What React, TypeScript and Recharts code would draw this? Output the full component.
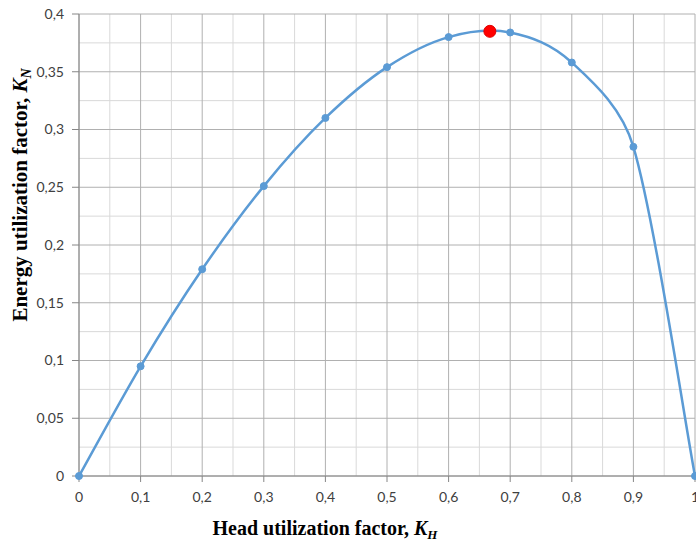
import React from 'react';
import { ComposedChart, Line, XAxis, YAxis, CartesianGrid, ReferenceDot, Label } from 'recharts';

const headFactor = [0, 0.1, 0.2, 0.3, 0.4, 0.5, 0.6, 0.7, 0.8, 0.9, 1];
const energyFactor = [0, 0.095, 0.179, 0.251, 0.31, 0.354, 0.38, 0.384, 0.358, 0.285, 0];
const peakHead = 0.667;
const peakEnergy = 0.385;
const xTicks = [0, 0.1, 0.2, 0.3, 0.4, 0.5, 0.6, 0.7, 0.8, 0.9, 1];
const yTicks = [0, 0.05, 0.1, 0.15, 0.2, 0.25, 0.3, 0.35, 0.4];
const xMinor = [0.05, 0.15, 0.25, 0.35, 0.45, 0.55, 0.65, 0.75, 0.85, 0.95];
const yMinor = [0.025, 0.075, 0.125, 0.175, 0.225, 0.275, 0.325, 0.375];

const data = headFactor.map((x, i) => ({ x, y: energyFactor[i] }));

// Catmull-Rom style smoothing with control arms capped relative to the segment length
const ARM_CAP = 0.4;
const smoothCurve = (context: any) => {
  let pts: number[][] = [];
  const len = (dx: number, dy: number) => Math.sqrt(dx * dx + dy * dy);
  return {
    areaStart() {},
    areaEnd() {},
    lineStart() {
      pts = [];
    },
    point(x: number, y: number) {
      pts.push([+x, +y]);
    },
    lineEnd() {
      const n = pts.length;
      if (!n) return;
      context.moveTo(pts[0][0], pts[0][1]);
      for (let i = 0; i < n - 1; i++) {
        const p1 = pts[i];
        const p2 = pts[i + 1];
        const p0 = pts[i - 1] || p1;
        const p3 = pts[i + 2] || p2;
        const seg = len(p2[0] - p1[0], p2[1] - p1[1]);
        let a1x = (p2[0] - p0[0]) / 6;
        let a1y = (p2[1] - p0[1]) / 6;
        let a2x = (p3[0] - p1[0]) / 6;
        let a2y = (p3[1] - p1[1]) / 6;
        const l1 = len(a1x, a1y);
        const l2 = len(a2x, a2y);
        if (l1 > seg * ARM_CAP) {
          const k = (seg * ARM_CAP) / l1;
          a1x *= k;
          a1y *= k;
        }
        if (l2 > seg * ARM_CAP) {
          const k = (seg * ARM_CAP) / l2;
          a2x *= k;
          a2y *= k;
        }
        context.bezierCurveTo(p1[0] + a1x, p1[1] + a1y, p2[0] - a2x, p2[1] - a2y, p2[0], p2[1]);
      }
    },
  };
};

const fmt = (v: number) => String(v).replace('.', ',');
const tickStyle = { fontFamily: 'Lato, "Open Sans", sans-serif', fontSize: 14, fill: '#404040' };
const titleFont = '"Liberation Serif", "Times New Roman", serif';

const XTitle = (props: any) => {
  const vb = props.viewBox || { x: 0, y: 0, width: 0, height: 0 };
  const cx = vb.x + vb.width / 2 - 62;
  const cy = vb.y + 59;
  return (
    <text x={cx} y={cy} textAnchor="middle" fontFamily={titleFont} fontWeight="bold" fontSize={20} fill="#000">
      Head utilization factor,{' '}
      <tspan fontStyle="italic">K</tspan>
      <tspan fontStyle="italic" fontSize={13} dy={4}>H</tspan>
    </text>
  );
};

const YTitle = (props: any) => {
  const vb = props.viewBox || { x: 0, y: 0, width: 0, height: 0 };
  const cx = vb.x - 2;
  const cy = vb.y + vb.height / 2 - 50;
  return (
    <text
      x={cx}
      y={cy}
      transform={`rotate(-90, ${cx}, ${cy})`}
      textAnchor="middle"
      fontFamily={titleFont}
      fontWeight="bold"
      fontSize={21}
      fill="#000"
    >
      Energy utilization factor,{' '}
      <tspan fontStyle="italic">K</tspan>
      <tspan fontStyle="italic" fontSize={14} dy={4}>N</tspan>
    </text>
  );
};

export default function App() {
  return (
    <div style={{ position: 'absolute', left: 0, top: 0, width: 696, height: 542, overflow: 'hidden', background: '#fff' }}>
      <ComposedChart width={720} height={542} data={data} margin={{ top: 14, right: 25, bottom: 0, left: 29 }}>
        <CartesianGrid verticalValues={xMinor} horizontalValues={yMinor} stroke="#d9d9d9" />
        <CartesianGrid stroke="#b0b0b0" />
        <XAxis
          type="number"
          dataKey="x"
          domain={[0, 1]}
          ticks={xTicks}
          tickFormatter={fmt}
          height={66}
          tickSize={6}
          tickMargin={10}
          tick={tickStyle}
          stroke="#868686"
          interval={0}
        >
          <Label content={XTitle} />
        </XAxis>
        <YAxis
          type="number"
          domain={[0, 0.4]}
          ticks={yTicks}
          tickFormatter={fmt}
          width={50}
          tickSize={7}
          tickMargin={8}
          tick={tickStyle}
          stroke="#868686"
          interval={0}
        >
          <Label content={YTitle} />
        </YAxis>
        <Line
          type={smoothCurve as any}
          dataKey="y"
          stroke="#5b9bd5"
          strokeWidth={2.5}
          dot={{ r: 3.5, fill: '#5b9bd5', stroke: '#5b9bd5', strokeWidth: 1 }}
          activeDot={false}
          isAnimationActive={false}
        />
        <ReferenceDot x={peakHead} y={peakEnergy} r={6} fill="#ff0000" stroke="#e00000" strokeWidth={1} />
      </ComposedChart>
    </div>
  );
}
